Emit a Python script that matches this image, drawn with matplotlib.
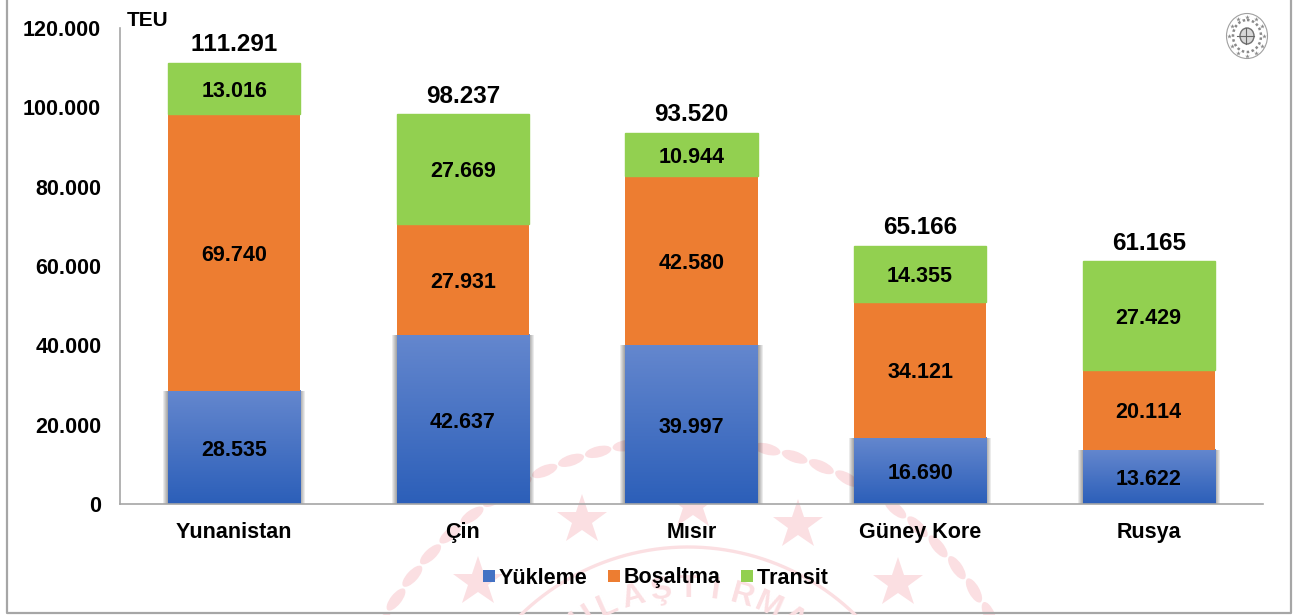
import numpy as np
import matplotlib.pyplot as plt
from matplotlib.patches import Ellipse
from matplotlib.lines import Line2D
from matplotlib.ticker import FuncFormatter

plt.rcParams['font.family'] = ['Liberation Sans', 'DejaVu Sans']
plt.rcParams['font.weight'] = 'bold'
plt.rcParams['text.kerning_factor'] = 6

ulkeler = ['Yunanistan', 'Çin', 'Mısır', 'Güney Kore', 'Rusya']
yukleme = [28535, 42637, 39997, 16690, 13622]
bosaltma = [69740, 27931, 42580, 34121, 20114]
transit = [13016, 27669, 10944, 14355, 27429]
toplam = [111291, 98237, 93520, 65166, 61165]
y_ticks = [0, 20000, 40000, 60000, 80000, 100000, 120000]

W, H = 1299, 615


def tr_format(v):
    return f'{int(v):,}'.replace(',', '.')


fig = plt.figure(figsize=(W / 100, H / 100), dpi=100, facecolor='white')

# background layer in pixel coords: frame, watermark, logo
bg = fig.add_axes([0, 0, 1, 1], zorder=0)
bg.set_xlim(0, W)
bg.set_ylim(H, 0)
bg.axis('off')

bg.plot([7, 7, 1291, 1291, 7], [-5, 613, 613, -5, -5], color='#A6A6A6', lw=1.6)

# watermark seal, very pale red
wm = '#FBDFE2'
cx, cy = 688, 787
for sx, sy in [(582, 520), (693, 505), (798, 525), (478, 582), (898, 583)]:
    bg.plot(sx, sy, marker='*', ms=38, color=wm, mew=0)
th = np.deg2rad(np.linspace(-46, 46, 200))
bg.plot(cx + 240 * np.sin(th), cy - 240 * np.cos(th), color=wm, lw=2.4)
for ang in np.arange(-62, 63, 4.7):
    a = np.deg2rad(ang)
    tilt = ang * 1.1 if ang > 0 else ang * 0.9
    bg.add_patch(Ellipse((cx + 347 * np.sin(a), cy - 347 * np.cos(a)), 27, 11, angle=tilt,
                         fc=wm, ec='none'))
for i, ch in enumerate('ULAŞTIRMA'):
    ang = (i - 4) * 8
    a = np.deg2rad(ang)
    bg.text(cx + 198 * np.sin(a), cy - 198 * np.cos(a), ch, color=wm, fontsize=23,
            ha='center', va='center', rotation=-ang)

# logo, top right
lc = '#A0A0A0'
lx, ly = 1247, 36
bg.add_patch(Ellipse((lx, ly), 41, 45, fill=False, ec=lc, lw=0.8))
bg.add_patch(Ellipse((lx, ly), 28, 32, fill=False, ec='#8A8A8A', lw=1.8, ls=(0, (1, 1))))
bg.add_patch(Ellipse((lx, ly), 14, 16, fc='#D8D8D8', ec='#707070', lw=1.0))
for a in np.deg2rad(np.arange(0, 360, 30)):
    bg.plot(lx + 17.5 * np.cos(a), ly + 19.5 * np.sin(a), marker='*', ms=3.5, color='#8A8A8A', mew=0)
bg.plot([lx - 10, lx + 7], [ly, ly], color='#666666', lw=0.8)
bg.plot([lx - 1, lx - 1], [ly - 8, ly + 8], color='#666666', lw=0.8)

# main chart
ax = fig.add_axes([120 / W, (H - 504) / H, (1263 - 120) / W, (504 - 28) / H], zorder=1)
ax.patch.set_alpha(0)

x = np.arange(len(ulkeler))
bar_w = 0.578
px = 1 / 228.6  # one pixel in category units
yuk = np.array(yukleme)
bos = np.array(bosaltma)
tra = np.array(transit)

# soft shadow around the blue bars
for p in [5, 4, 3, 2, 1]:
    ax.bar(x, yuk, width=bar_w + 2 * p * px, color='black', alpha=0.08, lw=0, zorder=1)

# blue bars with vertical gradient
top_c = np.array([0x64, 0x87, 0xCE]) / 255
bot_c = np.array([0x2C, 0x5F, 0xB9]) / 255
grad = np.linspace(0, 1, 128)[:, None, None]
grad_img = top_c * (1 - grad) + bot_c * grad
for xi, v in zip(x, yuk):
    ax.imshow(grad_img, extent=[xi - bar_w / 2, xi + bar_w / 2, 0, v], aspect='auto',
              zorder=2, interpolation='bilinear')

ax.bar(x, bos, width=bar_w, bottom=yuk, color='#ED7D31', lw=0, zorder=3)
ax.bar(x, tra, width=bar_w, bottom=yuk + bos, color='#92D050', ec='#92D050', lw=1.0, zorder=3)

lab_off = (0, -2)
for i in x:
    for val, mid in [(yuk[i], yuk[i] / 2), (bos[i], yuk[i] + bos[i] / 2), (tra[i], yuk[i] + bos[i] + tra[i] / 2)]:
        ax.annotate(tr_format(val), (i, mid), xytext=lab_off, textcoords='offset points',
                    ha='center', va='center', fontsize=15.5, zorder=4)
    ax.annotate(tr_format(toplam[i]), (i, toplam[i]), xytext=(0, 13), textcoords='offset points',
                ha='center', va='center', fontsize=17.5, zorder=4)

ax.set_xlim(-0.5, len(ulkeler) - 0.5)
ax.set_ylim(0, 120000)
ax.set_xticks(x)
ax.set_xticklabels(ulkeler, fontsize=15.5)
ax.set_yticks(y_ticks)
ax.yaxis.set_major_formatter(FuncFormatter(lambda v, p: tr_format(v)))
ax.tick_params(axis='y', length=0, pad=13.5, labelsize=15.5)
ax.tick_params(axis='x', length=0, pad=13)
ax.spines['top'].set_visible(False)
ax.spines['right'].set_visible(False)
ax.spines['left'].set_color('#A6A6A6')
ax.spines['bottom'].set_color('#A6A6A6')
ax.spines['left'].set_linewidth(1.2)
ax.spines['bottom'].set_linewidth(1.2)

fig.text(127 / W, 1 - 21 / H, 'TEU', fontsize=15, ha='left', va='center')

handles = [Line2D([], [], marker='s', ls='', ms=9, color=c, mew=0)
           for c in ['#4472C4', '#ED7D31', '#92D050']]
fig.legend(handles, ['Yükleme', 'Boşaltma', 'Transit'], ncol=3, frameon=False, fontsize=15.5,
           loc='center', bbox_to_anchor=(654 / W, 1 - 578 / H), handletextpad=0.03,
           columnspacing=0.75, handlelength=0.9)

fig.savefig('out.png', dpi=100)
